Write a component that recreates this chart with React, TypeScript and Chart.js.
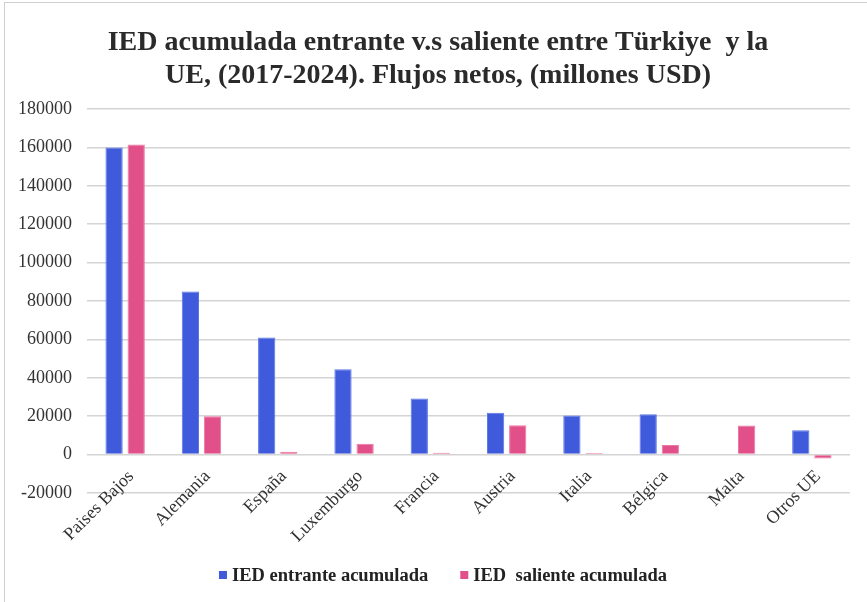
import React, { useEffect, useRef } from "react";
import { Chart, registerables } from "chart.js";

Chart.register(...registerables);

const categories = ["Paises Bajos", "Alemania", "España", "Luxemburgo", "Francia", "Austria", "Italia", "Bélgica", "Malta", "Otros UE"];
const entrante = [160000, 85000, 61000, 44500, 29200, 21800, 20400, 21000, 0, 12700];
const saliente = [161500, 20000, 1500, 5600, 1000, 15300, 800, 5000, 15100, -2000];
const titleLines = ["IED acumulada entrante v.s saliente entre Türkiye  y la", "UE, (2017-2024). Flujos netos, (millones USD)"];
const seriesNames = ["IED entrante acumulada", "IED  saliente acumulada"];
const seriesColors = ["#3F5BDC", "#E2508A"];
const seriesBorders = ["#5A75E8", "#EE77A2"];

const FONT = "'Liberation Serif', 'Times New Roman', serif";

// Two-line title centred over the figure
const topTitle = {
  id: "topTitle",
  afterDraw(chart: any) {
    const { ctx } = chart;
    ctx.save();
    ctx.font = `bold 28px ${FONT}`;
    ctx.fillStyle = "#2a2a2a";
    ctx.textAlign = "center";
    ctx.textBaseline = "middle";
    titleLines.forEach((t, i) => ctx.fillText(t, 438, 43 + i * 33));
    ctx.restore();
  },
};

// Category labels drawn next to the zero line (as in the original spreadsheet chart)
const zeroLineLabels = {
  id: "zeroLineLabels",
  afterDatasetsDraw(chart: any) {
    const { ctx, scales } = chart;
    const xs = scales.x;
    const ys = scales.y;
    const y0 = ys.getPixelForValue(0);
    ctx.save();
    ctx.font = `18px ${FONT}`;
    ctx.fillStyle = "#333";
    ctx.textAlign = "right";
    ctx.textBaseline = "middle";
    chart.data.labels.forEach((lab: string, i: number) => {
      const x = xs.getPixelForValue(i);
      ctx.save();
      ctx.translate(x + 6, y0 + 19);
      ctx.rotate(-Math.PI / 4);
      ctx.fillText(lab, 0, 0);
      ctx.restore();
    });
    ctx.restore();
  },
};

// Legend drawn below the axis labels
const bottomLegend = {
  id: "bottomLegend",
  afterDraw(chart: any) {
    const { ctx } = chart;
    const ds = chart.data.datasets;
    ctx.save();
    ctx.font = `bold 18.5px ${FONT}`;
    ctx.textBaseline = "middle";
    ctx.textAlign = "left";
    const box = 8;
    const gapBoxText = 5;
    const gapItems = 32;
    const widths = ds.map((d: any) => ctx.measureText(d.label).width);
    let total = 0;
    widths.forEach((w: number, i: number) => {
      total += box + gapBoxText + w + (i < widths.length - 1 ? gapItems : 0);
    });
    let x = 443 - total / 2;
    const y = 575;
    ds.forEach((d: any, i: number) => {
      ctx.fillStyle = d.backgroundColor;
      ctx.fillRect(x, y - box / 2, box, box);
      ctx.fillStyle = "#222";
      ctx.fillText(d.label, x + box + gapBoxText, y + 1);
      x += box + gapBoxText + widths[i] + gapItems;
    });
    ctx.restore();
  },
};

export default function App() {
  const ref = useRef<HTMLCanvasElement | null>(null);
  useEffect(() => {
    if (!ref.current) return;
    const chart = new Chart(ref.current, {
      type: "bar",
      data: {
        labels: categories,
        datasets: [
          {
            label: seriesNames[0],
            data: entrante,
            backgroundColor: seriesColors[0],
            borderColor: seriesBorders[0],
            borderWidth: 1,
            barPercentage: 0.78,
            categoryPercentage: 0.58,
          },
          {
            label: seriesNames[1],
            data: saliente,
            backgroundColor: seriesColors[1],
            borderColor: seriesBorders[1],
            borderWidth: 1,
            barPercentage: 0.78,
            categoryPercentage: 0.58,
          },
        ],
      },
      plugins: [topTitle, zeroLineLabels, bottomLegend],
      options: {
        animation: false,
        responsive: false,
        maintainAspectRatio: false,
        layout: { padding: { left: 3, right: 17, top: 109, bottom: 54 } },
        plugins: {
          title: { display: false },
          legend: { display: false },
          tooltip: { enabled: false },
        },
        scales: {
          x: {
            grid: { display: false, drawTicks: false },
            border: { display: false },
            ticks: { display: false },
            afterFit: (s: any) => {
              s.height = 55;
            },
          },
          y: {
            min: -20000,
            max: 180000,
            grid: { color: "#d4d4d4", lineWidth: 1.5, drawTicks: false },
            border: { display: false },
            ticks: {
              stepSize: 20000,
              color: "#333",
              font: { family: FONT, size: 18 },
              padding: 15,
              callback: (v: any) => String(v),
            },
          },
        },
      },
    });
    return () => chart.destroy();
  }, []);
  return (
    <div style={{ position: "absolute", left: 0, top: 0, width: 867, height: 602, background: "#fff", overflow: "hidden" }}>
      <div style={{ position: "absolute", left: 4, top: 2, width: 880, height: 620, border: "1px solid #cfcfcf", boxSizing: "border-box" }} />
      <canvas ref={ref} width={867} height={602} style={{ position: "absolute", left: 0, top: 0 }} />
    </div>
  );
}
